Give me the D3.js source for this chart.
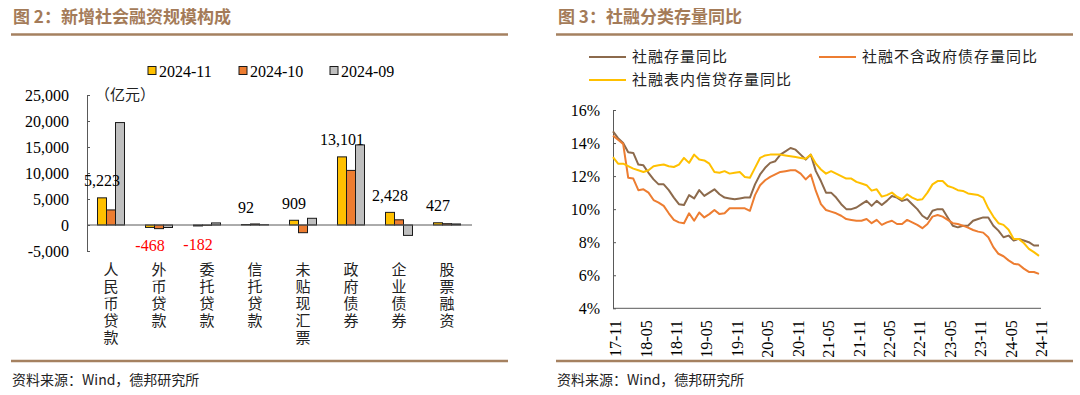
<!DOCTYPE html>
<html>
<head>
<meta charset="utf-8">
<script src="https://cdn.jsdelivr.net/npm/d3@7/dist/d3.min.js"></script>
<style>
  html, body { margin: 0; padding: 0; background: #fff; }
  svg { display: block; }
</style>
</head>
<body>
<svg id="chart" width="1080" height="395"></svg>
<script>
// left chart: new social financing by item (100m yuan)
var categories = ['人民币贷款', '外币贷款', '委托贷款', '信托贷款', '未贴现汇票', '政府债券', '企业债券', '股票融资'];
var seriesNames = ['2024-11', '2024-10', '2024-09'];
var nov24 = [5223, -468, -182, 92, 909, 13101, 2428, 427];
var oct24 = [2900, -700, -60, 200, -1480, 10500, 1000, 250];
var sep24 = [19700, -480, 400, 50, 1290, 15400, -2000, 200];
var barTicks = [-5000, 0, 5000, 10000, 15000, 20000, 25000];

// right chart: stock growth yoy (%), 2017-11 .. 2024-11 monthly
var monthLabels = ['17-11', '18-05', '18-11', '19-05', '19-11', '20-05', '20-11', '21-05',
  '21-11', '22-05', '22-11', '23-05', '23-11', '24-05', '24-11'];
var tsfAll = [
  14.7, 14.3, 14.0, 13.45, 13.4, 12.7, 12.65, 12.2, 11.8, 11.5, 11.5, 11.15,
  10.7, 10.3, 10.25, 10.85, 10.65, 11.15, 10.8, 11.0, 11.2, 10.9, 10.7, 10.65,
  10.6, 10.65, 10.7, 10.7, 11.5, 12.1, 12.5, 12.8, 12.9, 13.3, 13.5, 13.7,
  13.6, 13.3, 13.0, 13.3, 12.3, 11.7, 11.0, 11.0, 10.7, 10.3, 10.0, 10.0,
  10.1, 10.3, 10.5, 10.2, 10.5, 10.25, 10.5, 10.8, 10.7, 10.5, 10.6, 10.3,
  10.0, 9.6, 9.4, 9.9, 10.0, 10.0, 9.5, 9.0, 8.9, 9.0, 9.0, 9.3,
  9.4, 9.5, 9.5, 9.0, 8.7, 8.3, 8.4, 8.1, 8.2, 8.1, 8.0, 7.8, 7.8
];
var tsfExGov = [
  14.45, 14.2, 13.95, 11.9, 11.85, 11.15, 11.2, 11.0, 10.55, 10.4, 10.2, 9.75,
  9.35, 9.2, 9.15, 9.75, 9.3, 9.8, 9.5, 9.7, 9.95, 9.7, 9.75, 10.05,
  10.05, 10.05, 10.05, 9.9, 10.85, 11.45, 11.75, 11.95, 12.1, 12.25, 12.3, 12.35,
  12.35, 12.15, 11.8, 12.1, 11.1, 10.3, 9.95, 9.85, 9.75, 9.6, 9.4, 9.35,
  9.3, 9.3, 9.4, 9.15, 9.35, 9.05, 9.2, 9.3, 9.1, 9.1, 9.35, 9.2,
  9.05, 8.85, 9.1, 9.55, 9.65, 9.55, 9.35, 9.15, 9.1, 9.0, 8.88, 8.74,
  8.64, 8.58, 8.3, 7.7, 7.3, 7.15, 6.9, 6.7, 6.65, 6.4, 6.2, 6.2, 6.08
];
var tsfLoans = [
  13.15, 12.75, 12.75, 12.6, 12.45, 12.35, 12.25, 12.35, 12.6, 12.65, 12.7, 12.6,
  12.55, 12.7, 13.1, 12.8, 13.3, 13.0, 12.95, 12.75, 12.25, 12.2, 12.3, 12.15,
  12.2, 12.25, 11.95, 11.9, 12.5, 13.1, 13.25, 13.3, 13.3, 13.3, 13.25, 13.2,
  13.15, 13.1, 13.05, 13.3, 12.75, 12.4, 12.15, 12.3, 12.15, 12.0, 11.85, 11.85,
  11.65, 11.55, 11.45, 11.12, 11.2, 10.76, 10.85, 11.0, 10.75, 10.6, 10.9, 10.7,
  10.56, 10.6, 11.0, 11.5, 11.7, 11.7, 11.4, 11.3, 11.15, 11.1, 10.95, 10.9,
  10.85, 10.7, 10.05, 9.55, 9.15, 9.05, 8.75, 8.2, 8.2, 7.95, 7.6, 7.4, 7.17
];
var pctTicks = [4, 6, 8, 10, 12, 14, 16];
var lineNames = ['社融存量同比', '社融不含政府债存量同比', '社融表内信贷存量同比'];

var svg = d3.select('#chart');
var serif = '"Liberation Serif", "Times New Roman", serif';
var cjk = '"Noto Sans CJK SC", sans-serif';
var ruleColor = '#a58160';
var axisColor = '#595959';
var barColors = ['#ffc000', '#ed7d31', '#bfbfbf'];
var lineColors = ['#8c6a4c', '#ed7d31', '#ffc000'];

var fmt = d3.formatLocale({ decimal: '.', thousands: ',', grouping: [3], currency: ['', ''], minus: '-' }).format(',');

function panelFrame(x0, x1, title) {
  svg.append('text')
    .attr('x', x0 + 2).attr('y', 17).attr('dy', '0.35em')
    .style('font-family', cjk).style('font-size', '17px').style('font-weight', 'bold')
    .style('fill', '#a47b58')
    .text(title);
  svg.append('line').attr('x1', x0).attr('x2', x1).attr('y1', 34.5).attr('y2', 34.5)
    .attr('stroke', ruleColor).attr('stroke-width', 2.5);
  svg.append('line').attr('x1', x0).attr('x2', x1).attr('y1', 361).attr('y2', 361)
    .attr('stroke', ruleColor).attr('stroke-width', 2.5);
  svg.append('text')
    .attr('x', x0 + 1).attr('y', 380).attr('dy', '0.35em')
    .style('font-family', cjk).style('font-size', '14px').style('fill', '#222')
    .text('资料来源：Wind，德邦研究所');
}

panelFrame(11, 508, '图 2：新增社会融资规模构成');
panelFrame(556, 1073, '图 3：社融分类存量同比');

// ---------- left: bars ----------
var yBar = d3.scaleLinear().domain([-5000, 25000]).range([251, 95]);
var xBand = d3.scaleBand().domain(categories).range([87, 471]);
var xInner = d3.scaleBand().domain(seriesNames).range([10.5, 37.5]);
var barSeries = [nov24, oct24, sep24];

var yAxisL = svg.append('g').attr('transform', 'translate(87,0)')
  .call(d3.axisLeft(yBar).tickValues(barTicks).tickFormat(fmt)
    .tickSizeInner(-3).tickSizeOuter(0).tickPadding(18));
yAxisL.selectAll('path, line').attr('stroke', axisColor);
yAxisL.selectAll('text').style('font-family', serif).style('font-size', '16px').style('fill', '#000');

svg.append('text').attr('x', 95).attr('y', 95).attr('dy', '0.35em')
  .style('font-family', cjk).style('font-size', '15px').style('fill', '#222')
  .text('（亿元）');

barSeries.forEach(function (vals, s) {
  svg.append('g').selectAll('rect')
    .data(vals)
    .join('rect')
    .attr('x', function (d, i) { return xBand(categories[i]) + xInner(seriesNames[s]); })
    .attr('y', function (d) { return yBar(Math.max(d, 0)); })
    .attr('width', xInner.bandwidth())
    .attr('height', function (d) { return Math.abs(yBar(d) - yBar(0)); })
    .attr('fill', barColors[s])
    .attr('stroke', '#1a1a1a')
    .attr('stroke-width', 1);
});

svg.append('line').attr('x1', 87).attr('x2', 472).attr('y1', yBar(0)).attr('y2', yBar(0))
  .attr('stroke', axisColor).attr('stroke-width', 1);

svg.append('g').selectAll('text')
  .data(nov24)
  .join('text')
  .attr('x', function (d, i) { return xBand(categories[i]) + xInner(seriesNames[0]) + xInner.bandwidth() / 2; })
  .attr('y', function (d) { return d >= 0 ? yBar(d) - 17 : yBar(d) + 18; })
  .attr('dy', '0.35em')
  .attr('text-anchor', 'middle')
  .style('font-family', serif).style('font-size', '16px')
  .style('fill', function (d) { return d < 0 ? '#ff0000' : '#000'; })
  .text(function (d) { return fmt(d); });

// vertical category labels (vertical writing mode, one text per category)
svg.append('g').selectAll('text')
  .data(categories)
  .join('text')
  .attr('x', function (c) { return xBand(c) + xBand.bandwidth() / 2; })
  .attr('y', 262)
  .style('writing-mode', 'vertical-rl')
  .style('letter-spacing', '2px')
  .style('font-family', cjk).style('font-size', '15px').style('fill', '#222')
  .text(function (c) { return c; });

// legend
seriesNames.forEach(function (name, s) {
  var lx = 148 + s * 91;
  svg.append('rect').attr('x', lx).attr('y', 66.5).attr('width', 8).attr('height', 8)
    .attr('fill', barColors[s]).attr('stroke', '#1a1a1a').attr('stroke-width', 1);
  svg.append('text').attr('x', lx + 11).attr('y', 71).attr('dy', '0.35em')
    .style('font-family', serif).style('font-size', '16px').style('fill', '#000')
    .text(name);
});

// ---------- right: lines ----------
var xLine = d3.scaleLinear().domain([0, tsfAll.length - 1]).range([613, 1039]);
var yLine = d3.scaleLinear().domain([4, 16]).range([308.3, 110]);

var yAxisR = svg.append('g').attr('transform', 'translate(613,0)')
  .call(d3.axisLeft(yLine).tickValues(pctTicks).tickFormat(function (d) { return d + '%'; })
    .tickSizeInner(-3).tickSizeOuter(0).tickPadding(13));
yAxisR.selectAll('path, line').attr('stroke', axisColor);
yAxisR.selectAll('text').style('font-family', serif).style('font-size', '16px').style('fill', '#000');

var xAxisR = svg.append('g').attr('transform', 'translate(0,' + yLine(4) + ')')
  .call(d3.axisBottom(xLine)
    .tickValues(monthLabels.map(function (d, i) { return i * 6; }))
    .tickFormat(function (d, i) { return monthLabels[i]; })
    .tickSize(0).tickSizeOuter(0));
xAxisR.select('.domain').attr('stroke', axisColor).attr('d', 'M613,0H1041');
xAxisR.selectAll('text')
  .attr('transform', 'rotate(-90)')
  .attr('x', -12).attr('y', 2).attr('dy', '0.35em')
  .style('text-anchor', 'end')
  .style('font-family', serif).style('font-size', '16px').style('fill', '#000');

var line = d3.line()
  .x(function (d, i) { return xLine(i); })
  .y(function (d) { return yLine(d); });

[tsfAll, tsfExGov, tsfLoans].forEach(function (vals, s) {
  svg.append('path').datum(vals)
    .attr('d', line)
    .attr('fill', 'none')
    .attr('stroke', lineColors[s])
    .attr('stroke-width', 2)
    .attr('stroke-linejoin', 'round');
});

// legend
var legendPos = [[589, 57], [819, 57], [589, 80]];
lineNames.forEach(function (name, s) {
  var p = legendPos[s];
  svg.append('line').attr('x1', p[0]).attr('x2', p[0] + 37).attr('y1', p[1]).attr('y2', p[1])
    .attr('stroke', lineColors[s]).attr('stroke-width', 2);
  svg.append('text').attr('x', p[0] + 43).attr('y', p[1]).attr('dy', '0.35em')
    .style('font-family', cjk).style('font-size', '15px').style('fill', '#222')
    .style('letter-spacing', '1px')
    .text(name);
});
</script>
</body>
</html>
